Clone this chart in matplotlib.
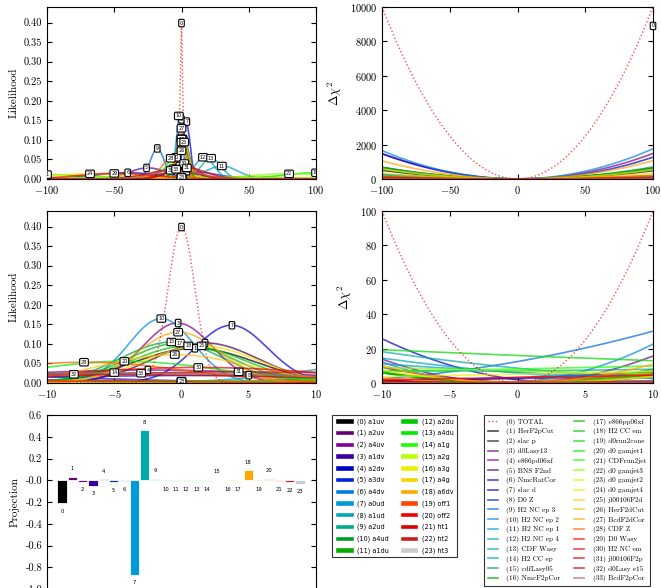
import numpy as np
import matplotlib
matplotlib.use("Agg")
import matplotlib.pyplot as plt
from matplotlib.lines import Line2D
from matplotlib.patches import Patch

plt.rcParams['font.family'] = 'serif'
plt.rcParams['font.serif'] = ['cmr10', 'DejaVu Serif']
plt.rcParams['mathtext.fontset'] = 'cm'
plt.rcParams['axes.formatter.use_mathtext'] = True
plt.rcParams['xtick.direction'] = 'in'
plt.rcParams['ytick.direction'] = 'in'
plt.rcParams['xtick.top'] = True
plt.rcParams['ytick.right'] = True
plt.rcParams['xtick.labelsize'] = 7.5
plt.rcParams['ytick.labelsize'] = 7.5
plt.rcParams['xtick.major.size'] = 3.5
plt.rcParams['ytick.major.size'] = 3.5

# experiments (index 1..33), index 0 is the TOTAL
exp_names = ["HerF2pCut", "slac p", "d0Lasy13", "e866pd06xf", "BNS F2nd",
             "NmcRatCor", "slac d", "D0 Z", "H2 NC ep 3", "H2 NC ep 2",
             "H2 NC ep 1", "H2 NC ep 4", "CDF Wasy", "H2 CC ep", "cdfLasy05",
             "NmcF2pCor", "e866pp06xf", "H2 CC em", "d0run2cone", "d0 gamjet1",
             "CDFrun2jet", "d0 gamjet3", "d0 gamjet2", "d0 gamjet4", "jl00106F2d",
             "HerF2dCut", "BcdF2dCor", "CDF Z", "D0 Wasy", "H2 NC em",
             "jl00106F2p", "d0Lasy e15", "BcdF2pCor"]
# position of the minimum of each experiment's chi2 along the eigen direction
exp_center = [1.0, 1.8, -0.3, -2.5, -25.0, -40.0, 3.7, 5.0, -18.0, -1.5,
              30.0, 17.0, 22.0, -5.0, -0.7, 0.0, -0.1, 0.5, 100.0, -4.2,
              -100.0, 80.0, 0.0, -68.0, 1.5, -0.5, -0.2, -7.2, -50.0, 1.2,
              4.2, -8.0, -3.0]
# width (one-sigma) of each experiment along the direction
exp_width = [4.5, 3.9, 2.6, 12.0, 14.0, 25.0, 2.7, 20.0, 5.1, 2.42,
             12.0, 7.1, 7.5, 15.0, 3.8, 80.0, 3.9, 4.2, 25.0, 7.2,
             35.0, 30.0, 100.0, 30.0, 4.2, 5.5, 3.07, 7.5, 28.0, 10.0,
             14.0, 18.0, 16.0]
exp_offset = [0, 0, 0, 0, 0, 0, 0, 0, 0, 0,
              0, 0, 0, 7.0, 0, 0, 0, 0, 0, 0,
              0, 0, 0, 0, 0, 0, 0, 0, 0, 0,
              0, 0, 0]
total_center = 0.0
total_width = 1.0

# eigenvector projection on the fit parameters
par_names = ["a1uv", "a2uv", "a4uv", "a1dv", "a2dv", "a3dv", "a4dv", "a0ud",
             "a1ud", "a2ud", "a4ud", "a1du", "a2du", "a4du", "a1g", "a2g",
             "a3g", "a4g", "a6dv", "off1", "off2", "ht1", "ht2", "ht3"]
projection = [-0.21, 0.03, -0.015, -0.05, 0.01, -0.02, -0.01, -0.87,
              0.46, 0.015, -0.01, -0.01, -0.01, -0.01, -0.01, 0.005,
              -0.01, -0.01, 0.09, -0.01, 0.015, -0.01, -0.02, -0.03]

W, H = 661.0, 588.0
fig = plt.figure(figsize=(6.61, 5.88), dpi=100)

def ax_px(x0, y0, x1, y1):
    return fig.add_axes([x0 / W, 1 - y1 / H, (x1 - x0) / W, (y1 - y0) / H])

ax_lk1 = ax_px(47, 7, 316, 179)
ax_ch1 = ax_px(382, 7, 653, 179)
ax_lk2 = ax_px(47, 211, 316, 383)
ax_ch2 = ax_px(382, 211, 653, 383)
ax_bar = ax_px(47, 415, 316, 589)

cmap = plt.get_cmap('nipy_spectral')
n_exp = len(exp_names)
line_colors = [cmap(i / n_exp) for i in range(n_exp)]

def chi2(t, mu, sig, off=0.0):
    return off + ((t - mu) / sig) ** 2

def like(t, mu, sig):
    return np.exp(-0.5 * ((t - mu) / sig) ** 2) / (np.sqrt(2 * np.pi) * sig)

bbox = dict(boxstyle='round,pad=0.25', fc='white', ec='black', lw=0.8)

def tag(ax, x, y, s, clip=True):
    ax.text(x, y, s, fontsize=3.5, ha='center', va='center', bbox=bbox,
            family='DejaVu Sans', zorder=10, clip_on=clip)

def draw_panels(axl, axc, t, label_edges):
    tot_l = like(t, total_center, total_width)
    axl.plot(t, tot_l, ':', color='red', lw=1.0, alpha=0.7, zorder=5)
    axc.plot(t, chi2(t, total_center, total_width), ':', color='red', lw=1.0, alpha=0.7, zorder=5)
    k = np.argmax(tot_l)
    tag(axl, t[k], tot_l[k], '0')
    marks = []
    for i in range(n_exp):
        y = like(t, exp_center[i], exp_width[i])
        c = chi2(t, exp_center[i], exp_width[i], exp_offset[i])
        axl.plot(t, y, color=line_colors[i], lw=1.2, alpha=0.7)
        axc.plot(t, c, color=line_colors[i], lw=1.2, alpha=0.7)
        k = np.argmax(y)
        if label_edges or 0 < k < len(t) - 1:
            marks.append((t[k], y[k], str(i + 1)))
    for x, y, s in marks:
        tag(axl, x, y, s)
    axl.set_ylabel('Likelihood', fontsize=8)
    axc.set_ylabel(r'$\Delta\chi^2$', fontsize=9)
    axl.set_ylim(0, 0.44)
    axl.set_yticks(np.arange(0, 0.41, 0.05))
    axl.yaxis.set_major_formatter(matplotlib.ticker.FormatStrFormatter('%.2f'))

t_wide = np.linspace(-100, 100, 101)
t_zoom = np.linspace(-10, 10, 161)

draw_panels(ax_lk1, ax_ch1, t_wide, True)
for ax in (ax_lk1, ax_ch1):
    ax.set_xlim(-100, 100)
    ax.set_xticks([-100, -50, 0, 50, 100])
ax_ch1.set_ylim(0, 10000)
ax_ch1.set_yticks(np.arange(0, 10001, 2000))
tag(ax_ch1, 100, 8900, '0', clip=False)

draw_panels(ax_lk2, ax_ch2, t_zoom, False)
for ax in (ax_lk2, ax_ch2):
    ax.set_xlim(-10, 10)
    ax.set_xticks([-10, -5, 0, 5, 10])
ax_ch2.set_ylim(0, 100)
ax_ch2.set_yticks(np.arange(0, 101, 20))

# projection bars
bar_colors = cmap(np.linspace(0, 1, len(par_names)))
xb = np.arange(len(par_names))
ax_bar.bar(xb, projection, width=0.9, align='edge', color=bar_colors,
           edgecolor='white', lw=0.6)
for i, v in enumerate(projection):
    off = 4 if v > 0 else -4
    ax_bar.annotate(str(i), (i + 0.45, v), xytext=(0, off), textcoords='offset points',
                    ha='center', va='bottom' if v > 0 else 'top', fontsize=3.8,
                    family='DejaVu Sans')
ax_bar.set_xlim(-1, 25)
ax_bar.set_ylim(-1.0, 0.6)
ax_bar.set_yticks(np.arange(-1.0, 0.61, 0.2))
ax_bar.yaxis.set_major_formatter(matplotlib.ticker.FormatStrFormatter('%.1f'))
ax_bar.set_xticks([])
ax_bar.set_ylabel('Projection', fontsize=8)

# legend of the parameters
par_handles = [Patch(facecolor=bar_colors[i], edgecolor='white') for i in range(len(par_names))]
par_labels = ['(%d) %s' % (i, n) for i, n in enumerate(par_names)]
leg1 = fig.legend(par_handles, par_labels, loc='upper left',
                  bbox_to_anchor=(332 / W, 1 - 415 / H), borderaxespad=0, ncol=2,
                  prop={'family': 'DejaVu Sans', 'size': 4.7},
                  handlelength=2.8, handleheight=0.9, labelspacing=0.8,
                  columnspacing=1.6, handletextpad=0.6, borderpad=0.5,
                  frameon=True, fancybox=False, edgecolor='black')
leg1.get_frame().set_linewidth(0.8)

# legend of the experiments
exp_handles = [Line2D([], [], color='red', ls=':', lw=1.0, alpha=0.7)]
exp_handles += [Line2D([], [], color=line_colors[i], lw=1.2, alpha=0.7) for i in range(n_exp)]
exp_labels = ['(0) TOTAL'] + ['(%d) %s' % (i + 1, n) for i, n in enumerate(exp_names)]
leg2 = fig.legend(exp_handles, exp_labels, loc='upper left',
                  bbox_to_anchor=(484 / W, 1 - 415 / H), borderaxespad=0, ncol=2,
                  prop={'size': 5.2}, handlelength=1.4, labelspacing=0.38,
                  columnspacing=1.9, handletextpad=1.2, borderpad=0.5,
                  frameon=True, fancybox=False, edgecolor='black')
leg2.get_frame().set_linewidth(0.8)

fig.savefig('out.png', dpi=100)
